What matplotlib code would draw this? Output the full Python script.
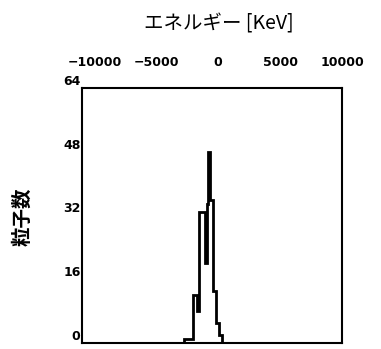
import matplotlib
matplotlib.use("Agg")
import matplotlib.pyplot as plt
import numpy as np

# Data
bin_edges = [-2800, -2030, -1720, -1560, -1090, -940, -820, -660, -390, -160, 80, 310]
counts = [1, 12, 8, 33, 20, 35, 48, 36, 13, 5, 2]
x_ticks = [-10000, -5000, 0, 5000, 10000]
y_ticks = [0, 16, 32, 48, 64]
title_text = "エネルギー [KeV]"
ylabel_text = "粒子数"

W, H = 381, 349
fig = plt.figure(figsize=(W / 100, H / 100), dpi=100)
ax = fig.add_axes([82 / W, 1 - 343 / H, 260 / W, 255 / H])

ax.stairs(counts, bin_edges, color="black", lw=2.0, baseline=0)

ax.set_xlim(-11000, 9300)
ax.set_ylim(0, 64)
for s in ax.spines.values():
    s.set_linewidth(1.5)
    s.set_color("black")

ax.xaxis.tick_top()
ax.set_xticks(x_ticks)
ax.set_xticklabels([str(v).replace("-", "\u2212") for v in x_ticks],
                   fontsize=9, fontweight="bold", family="DejaVu Sans")
ax.tick_params(axis="x", length=0, pad=13.5)

ax.set_yticks(y_ticks)
ax.set_yticklabels([str(v) for v in y_ticks], fontsize=9, fontweight="bold",
                   family="DejaVu Sans")
ax.tick_params(axis="y", length=0, pad=1)
for lab in ax.get_yticklabels():
    lab.set_verticalalignment("bottom")

fig.text(219 / W, 1 - 24 / H, title_text, ha="center", va="center",
         fontsize=14, family=["Noto Sans CJK JP", "DejaVu Sans"])
fig.text(23 / W, 1 - 217 / H, ylabel_text, ha="center", va="center",
         rotation=90, fontsize=14, fontweight="bold",
         family=["Noto Sans CJK JP", "DejaVu Sans"])

fig.savefig("out.png", dpi=100, facecolor="white")
